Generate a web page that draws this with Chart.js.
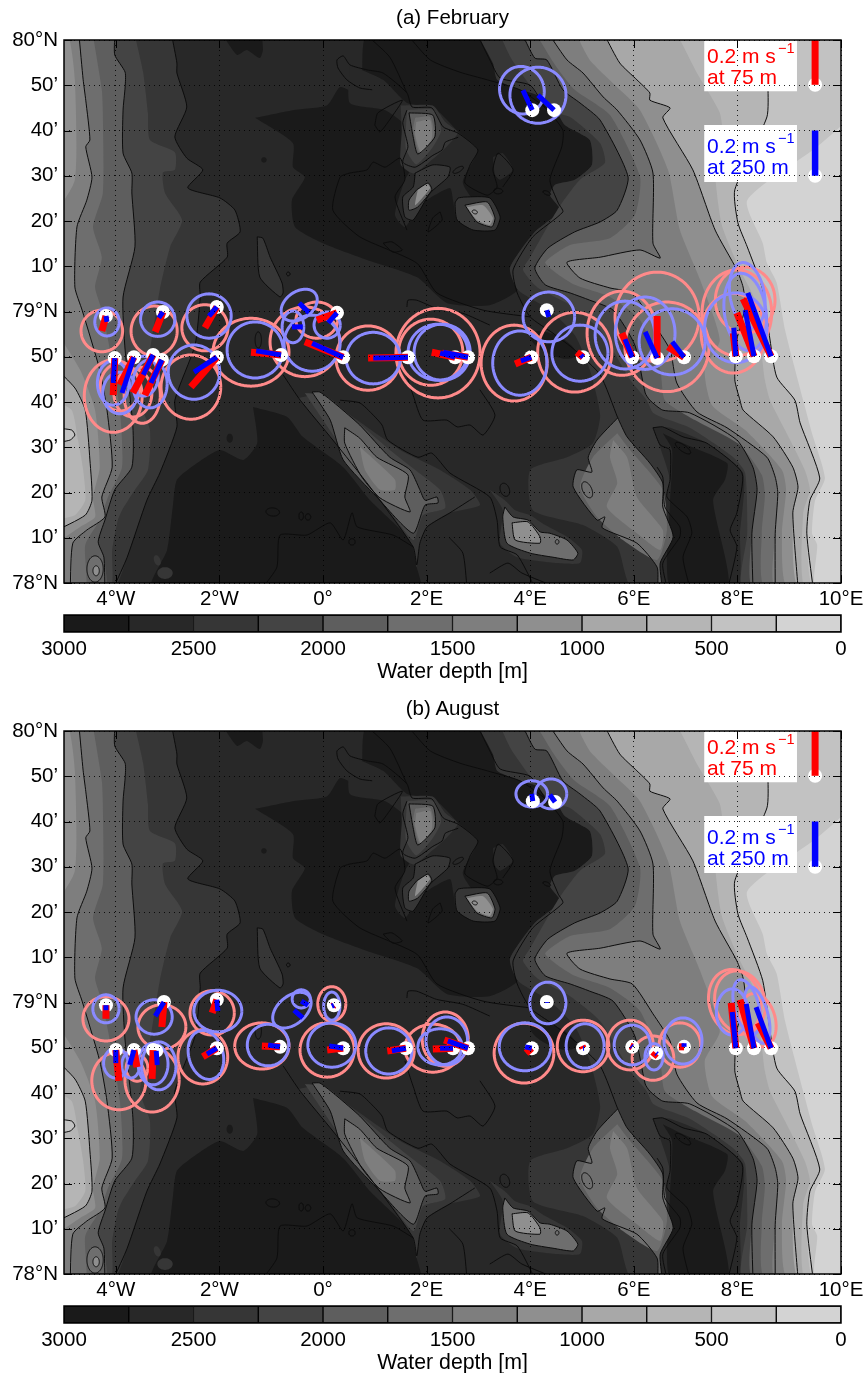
<!DOCTYPE html>
<html>
<head>
<meta charset="utf-8">
<title>Currents over bathymetry</title>
<script src="https://cdn.jsdelivr.net/npm/chart.js@4/dist/chart.umd.min.js"></script>
<style>
  body { margin: 0; background: #fff; font-family: "Liberation Sans", sans-serif; }
  #page { position: relative; width: 865px; height: 1373px; overflow: hidden; }
  canvas { position: absolute; left: 0; }
  .txt { position: absolute; font-size: 21px; line-height: 21px; white-space: nowrap; }
  .title { left: 0; width: 905px; text-align: center; color: #000; font-size: 20.5px; }
  .sup { position: absolute; font-size: 14.5px; line-height: 14px; }
  .red { color: #f00; }
  .blue { color: #00f; }
</style>
</head>
<body>
<div id="page"></div>
<script>
// axis values: lon in degrees, lat in minutes north of 78N
const lonTicks = [-4, -2, 0, 2, 4, 6, 8, 10];
const lonTickLabels = ["4°W", "2°W", "0°", "2°E", "4°E", "6°E", "8°E", "10°E"];
const latTicks = [0, 10, 20, 30, 40, 50, 60, 70, 80, 90, 100, 110, 120];
const latTickLabels = ["78°N", "10’", "20’", "30’", "40’", "50’", "79°N", "10’", "20’", "30’", "40’", "50’", "80°N"];
const depthEdges = [3000, 2750, 2500, 2250, 2000, 1750, 1500, 1250, 1000, 750, 500, 250, 0];
const depthTicks = [3000, 2500, 2000, 1500, 1000, 500, 0];
const depthColors = ["#1a1a1a", "#282828", "#363636", "#444444", "#5e5e5e", "#6e6e6e", "#7e7e7e", "#8f8f8f", "#a8a8a8", "#b5b5b5", "#c2c2c2", "#d3d3d3"];

// contour lines, [lon, lat minutes]
const c2500West = [[-2.92,121],[-2.82,114.9],[-2.82,112.7],[-2.63,105.2],[-2.86,98.6],[-2.63,93.9],[-2.32,91.3],[-2.61,87.3],[-1.99,85.1],[-1.70,82.4],[-1.60,77.6],[-1.85,75.1],[-1.85,72],[-2.37,66.5],[-2.37,63.2],[-2.47,52.6],[-2.86,40.4],[-2.82,34.5],[-3.15,24.3],[-3.40,18.3],[-3.78,5.7],[-4.04,-1]];
const c2000West = [[-4.02,121],[-4.02,116.7],[-3.82,112.9],[-3.82,109.6],[-3.86,104.5],[-3.86,95],[-3.69,90.6],[-3.69,86.2],[-3.63,74.3],[-3.86,63.2],[-3.82,51.5],[-3.67,34.5],[-3.69,25.6],[-4.02,20.6],[-4.21,13.9],[-4.34,9.1],[-4.23,5.7],[-4.21,-1]];
const c1500West = [[-4.71,121],[-4.63,111.2],[-4.58,106.7],[-4.50,97.9],[-4.58,96.4],[-4.46,89.7],[-4.56,84.6],[-4.75,78.7],[-4.79,65.4],[-4.65,60.3],[-4.31,47.1],[-4.17,38.2],[-4.07,25.6],[-4.27,19],[-4.21,14.6],[-4.56,11.7],[-4.83,8.8],[-4.88,-1]];
const c1000West = [[-5.2,47.9],[-4.79,43.1],[-4.59,38.2],[-4.50,27.2],[-4.46,18.3],[-4.59,15],[-5.2,11.3]];
const c500Lens = [[-5.2,34.3],[-4.85,33.8],[-4.79,32.7],[-4.88,31.6],[-5.2,30.9]];
const c500East = [[8.55,121],[8.59,109.6],[8.57,103],[7.95,86.9],[8.01,79.6],[8.19,74.3],[8.49,64.8],[8.63,53.7],[8.76,45.5],[9.11,40.4],[9.21,35.4],[9.59,23.2],[9.40,18.3],[9.34,11],[9.46,-1]];
const c1000East = [[5.44,121],[5.73,114.9],[6.06,111.2],[6.31,108.3],[6.31,106.7],[6.70,105],[6.56,102.8],[7.14,91.3],[7.57,78],[7.99,69.2],[8.11,65.4],[8.15,61],[7.99,53.7],[7.95,44.9],[8.05,40.4],[8.11,38.2],[8.69,32.3],[9.07,25.6],[9.17,21.2],[9.07,15.5],[9.17,-1]];
const c1500East = [[4.38,121],[4.71,115.6],[5.02,112.7],[5.41,107.4],[5.68,104.5],[6.12,97.9],[6.37,90.6],[6.37,75.1],[6.51,71.8],[6.12,73.6],[5.35,72],[4.71,70.9],[4.96,67.4],[5.54,65.2],[5.97,64.1],[6.37,57.5],[6.70,51.5],[6.83,44.2],[7.22,37.8],[7.80,34.3],[8.57,27.8],[8.73,23.4],[8.78,19.9],[8.73,11],[8.73,-1]];
const c2000East = [[3.86,121],[4.09,116],[4.32,115.6],[4.63,109],[4.96,106.1],[5.35,102.3],[5.89,89.7],[5.68,82.4],[5.35,79.8],[4.86,77.6],[4.34,74],[4.09,69.6],[4.29,65.9],[4.77,64.1],[5.15,62.5],[5.60,60.3],[6.02,52.6],[6.22,42],[6.31,40.4],[6.56,38.2],[7.08,37.6],[7.99,31.6],[8.30,25.6],[8.38,20.6],[8.28,11],[8.30,-1]];
const cNorthA = [[1.64,121],[2.07,115.6],[2.64,112.9],[3.17,111.2],[3.80,109],[4.29,105],[4.63,100.1],[4.61,96.4],[4.38,89.1],[4.54,84],[4.63,82],[4.05,76.5],[3.67,69.2],[3.75,64.1],[4.00,58.8],[4.44,55.2],[4.86,51.5],[5.35,46],[5.69,36.5]];
const cNorthB = [[2.99,121],[3.22,115.6],[3.42,111.6],[4.00,110],[4.29,105]];
const cNorthC = [[1.62,78],[1.39,85.3],[1.58,89.1],[1.49,93.9],[1.20,91.9],[0.97,93],[0.85,91.3],[0.52,90.6],[0.33,89.7],[0.19,82.4],[0.71,76.5],[1.81,70.7],[2.20,64.1],[3.09,60.3],[4.00,58.8]];
const cNorthD = [[0.95,109],[0.71,109.4],[0.46,111.2],[0.29,113.8],[0.27,115.6],[0.39,116.5],[0.52,114.5],[0.85,113.4],[1.16,112.7],[1.62,108.3],[1.72,105.2],[2.10,105],[2.32,100.8],[2.61,99.4],[2.99,95.7],[2.84,92.4],[2.74,88.4],[3.17,85.7],[3.36,87.5],[3.28,91.3],[3.38,95],[3.67,91.3],[3.47,87.5]];
const cNorthE = [[0.85,121],[1.29,116.2],[1.62,108.3]];
const cRidge1Edge = [[1.62,104.5],[1.54,101.7],[1.64,96.4],[1.54,93],[1.78,91.9],[2.12,94.5],[2.30,95.7],[2.36,97.4],[2.61,98.5]];
const cRidge1Inner = [[1.66,103.9],[2.12,103.4],[2.16,98.6],[1.83,94.8],[1.74,98.6],[1.66,103.9]];
const cRidge1Side = [[1.00,101.2],[1.06,103.9],[1.53,106.7],[1.35,103.4],[1.10,99.7],[1.00,101.2]];
const cRidge2Outer = [[1.78,90.6],[2.12,92.4],[2.45,91.9],[2.41,89.7],[2.07,86.2],[1.74,80.2],[1.58,80.9],[1.54,85.3],[1.74,87.5],[1.78,90.6]];
const cRidge2Inner = [[1.81,86.9],[2.03,88.4],[2.10,86.9],[1.83,83.1],[1.66,82.4],[1.66,84.6],[1.81,86.9]];
const cRidge3Outer = [[2.61,85.1],[2.74,85.3],[3.22,85.1],[3.42,80.9],[3.32,78],[2.90,78],[2.59,80.2],[2.55,84],[2.61,85.1]];
const cRidge3Inner = [[2.74,83.5],[3.17,84.2],[3.32,80.7],[3.26,78.7],[2.97,79.8],[2.74,83.5]];
const cRidgeBit1 = [[1.16,75.1],[1.33,75.4],[1.53,73.6],[1.35,73.1],[1.16,75.1]];
const cRidgeBit2 = [[2.26,82],[2.30,80.2],[2.03,77.6],[2.12,80.7],[2.26,82]];
const cIsland = [[-1.27,76.5],[-1.16,76.2],[-1.02,72],[-0.79,66.3],[-0.77,64.1],[-0.83,63.2],[-1.22,67.6],[-1.27,76.5]];
const cMidA = [[1.62,61],[1.64,62.5],[1.81,62.5],[2.19,60.7],[2.70,59.6],[3.22,57]];
const cMidB = [[3.03,42.7],[3.32,37.1],[3.09,32.7],[2.84,34.9],[2.59,34.5],[2.39,36],[1.93,36],[1.74,41.5],[1.58,47.1]];
const cSouthA = [[0.33,40.4],[0.71,39.8],[0.97,37.1],[1.14,34.9],[1.25,31.6],[1.83,27.8],[2.10,28.7],[2.45,24.3],[3.22,19],[3.36,13.9],[3.42,8],[3.75,6.2],[4.09,-1]];
const cSouthB = [[3.22,2.2],[3.57,4.4],[3.84,2.2],[4.52,-1]];
const cSouthC = [[2.45,9.9],[2.70,6.6],[2.78,-1]];
const cSouthD = [[-1.16,-1],[-0.89,3.5],[-0.83,10.6],[-0.31,10.6],[0.14,13.3],[0.39,9.5],[0.56,15.5],[0.66,12.4],[1.35,10.6],[1.74,8]];
const cKnipOuter = [[-0.77,46],[-0.44,40.4],[0.19,31.6],[0.91,21.2],[1.74,8],[1.81,4],[1.87,8.8],[2.01,12.4],[2.45,15.5],[2.93,19]];
const cKnipMid = [[-0.21,42.2],[0.14,36],[0.39,27.2],[1.04,19],[1.74,11],[1.97,17.2],[2.22,17.7],[2.20,19],[1.97,18.3],[1.87,20.6],[1.68,25],[1.29,27.8],[0.71,34.9],[0.27,39.3],[-0.06,42.2],[-0.21,42.2]];
const cKnipInner = [[0.42,34.3],[0.71,32],[1.04,27.8],[1.64,23.9],[1.58,19],[1.68,15.7],[1.10,18.8],[0.75,23.4],[0.42,30.9],[0.42,34.3]];
const cBank4Outer = [[3.51,16.8],[3.67,14.6],[3.96,13.9],[4.19,11.3],[4.38,11],[4.71,9.5],[4.92,6.6],[4.83,5.1],[4.44,5.7],[4.00,6.6],[3.55,8.8],[3.47,14.6],[3.51,16.8]];
const cBank4Inner = [[3.65,13.3],[3.96,13.5],[4.19,10.2],[4.19,8.8],[3.71,9.5],[3.65,13.3]];
const cBank6 = [[5.69,36.5],[5.29,31.6],[5.12,27.8],[5.19,24.5],[4.90,25],[4.83,21.2],[5.29,13.9],[5.44,14.6],[5.39,12.2],[6.06,8.8],[6.45,3.5],[6.47,-1],[6.54,-1],[6.51,4.4],[6.76,10.2],[6.56,16.8],[6.56,22.1],[6.31,26.5],[5.87,32.3],[5.69,36.5]];
const cBasinTop = [[6.37,34.3],[6.56,34.5],[6.95,32.3],[7.41,30.9],[8.09,24.3],[7.99,15.5],[7.86,11.7],[7.99,8],[7.82,-1]];
const cBasinLeft = [[6.37,34.3],[6.51,30.5],[6.70,29.4],[6.70,22.8],[6.64,19],[7.03,14.6],[7.12,11],[6.95,5.7],[7.08,-1]];
const cBasinEdge = [[6.45,25.6],[6.56,23.4],[6.60,16.8],[6.89,12.4],[6.89,10.2],[6.56,4.4],[6.64,-1]];

// filled depth areas without their own contour, [lon, lat minutes]
const west2250 = [[-3.63,121],[-3.47,112.7],[-3.38,103.9],[-3.34,97.9],[-2.86,95.2],[-2.86,91.3],[-3.09,90.7],[-3.05,86.2],[-2.72,80.2],[-2.95,74.3],[-3.15,64.8],[-3.34,51.5],[-3.53,40.4],[-3.34,33.8],[-3.38,25],[-3.63,20.6],[-3.88,16.1],[-3.96,13.9],[-4.07,7.3],[-4.11,-1]];
const west1750 = [[-4.44,121],[-4.27,109],[-4.25,103.9],[-4.25,86.2],[-4.44,78.7],[-4.27,72],[-4.40,65.4],[-4.27,60.3],[-4.11,51.5],[-3.92,38.2],[-3.88,25.6],[-4.15,19],[-4.31,13.9],[-4.59,8.4],[-4.59,-1]];
const west1250a = [[-5.2,121],[-4.92,121],[-4.79,111.2],[-4.79,89.1],[-5.2,81]];
const west1250b = [[-5.2,56.5],[-4.69,47.1],[-4.40,38.2],[-4.31,25.6],[-4.44,19],[-4.40,14.6],[-4.69,12.4],[-5.2,8.4]];
const west750 = [[-5.2,40.4],[-4.85,38.2],[-4.73,31.6],[-4.63,25],[-4.59,18.3],[-4.79,15],[-5.2,13.9]];
const darkTop = [[-1.93,121],[-1.66,116.7],[-1.47,117.8],[-1.22,116],[-1.16,117.8],[-1.18,121]];
const darkNorth = [[-1.31,102.8],[-0.58,104.5],[0.08,105.6],[0.33,109.6],[0.66,108.3],[0.75,111.2],[0.85,121],[2.99,121],[3.28,114.9],[3.80,109.6],[4.38,106.7],[4.67,101.2],[5.15,97.9],[5.19,92.4],[4.86,89.1],[4.48,88],[4.38,85.7],[4.58,82.4],[4.09,77.6],[3.61,69.6],[3.76,64.8],[3.22,61.4],[2.39,61.9],[1.81,67.6],[0.85,71.4],[0,75.1],[-0.54,78.7],[-0.60,84.6],[-0.35,89.7],[-0.58,91.9],[-0.58,97.2],[-1.31,102.8]];
const darkSouth = [[-1.35,38.9],[-0.69,36.7],[-0.39,32.3],[0.39,25.6],[0.91,18.3],[1.68,9.5],[1.81,3.5],[1.87,-1],[-3.30,-1],[-3.01,7.3],[-2.90,16.8],[-2.82,22.8],[-2.43,26.5],[-1.99,29.4],[-1.54,27.2],[-1.27,30.9],[-1.35,38.9]];
const ridgeBase = [[0.52,114.5],[1.16,111.2],[1.62,106.1],[2.12,105.2],[2.64,99.4],[2.99,95.7],[2.70,88.4],[3.28,78.7],[3.09,78],[2.59,80.2],[2.51,84.6],[2.45,87.3],[1.93,84],[1.58,78.7],[1.39,81.3],[1.58,89.1],[1.74,92.4],[1.68,100.1],[1.20,104.5],[0.52,106.1],[0.52,114.5]];
const ridgeLump = [[3.28,94.1],[3.47,95],[3.67,91.3],[3.42,89.1],[3.32,90.2],[3.28,94.1]];
const ridge1a = [[1.50,105.5],[2.12,105.5],[2.35,102],[2.60,99.5],[2.35,96],[2.05,93],[1.75,90.5],[1.50,92.5],[1.52,100],[1.50,105.5]];
const ridge1b = [[1.62,104.5],[2.15,104.5],[2.28,100],[2.10,96],[1.80,92.5],[1.60,96],[1.62,104.5]];
const ridge1c = [[1.78,102.8],[2.07,103],[2.14,98.6],[1.87,95],[1.74,100.1],[1.78,102.8]];
const ridge1d = [[1.80,101.9],[2.07,102.3],[2.10,98.3],[1.89,95.2],[1.78,99],[1.80,101.9]];
const ridge2c = [[1.83,86.9],[2.01,88.2],[2.07,87.3],[1.78,83.5],[1.83,86.9]];
const ridge3c = [[2.78,83.1],[3.09,83.5],[3.28,80.7],[3.22,79.1],[2.97,80.2],[2.78,83.1]];
const knipWide = [[-0.48,40.9],[0.19,31.6],[0.91,21.2],[1.74,8],[1.81,3.5],[1.87,8.8],[2.01,12.4],[2.45,15.5],[3.03,17.2],[2.84,20.6],[2.26,25],[1.49,29.4],[0.52,37.1],[-0.06,41.5],[-0.48,40.9]];
const knipBand = [[-0.35,42],[0.33,30.5],[1,20.6],[1.74,9.5],[1.93,15],[2.36,16.6],[2.26,20.6],[1.78,25],[1.29,29.4],[0.62,36],[0.04,41.5],[-0.35,42]];
const knipCore = [[0.71,30.1],[1.06,26.5],[1.39,22.8],[1.39,20.6],[1.10,20.6],[0.81,25],[0.71,30.1]];
const east2500 = [[2.99,121],[3.28,114.9],[3.36,111.2],[3.71,109.4],[4.38,106.7],[4.67,101.2],[5.15,97.9],[5.19,92.4],[4.86,89.1],[4.48,88],[4.38,85.7],[4.58,82.4],[4.09,77.6],[3.61,69.6],[3.76,64.8],[4.38,60.3],[4.86,54.8],[5.15,47.1],[5.35,37.1],[5.21,30.9],[4.71,27.8],[4,25],[4.05,16.1],[5.02,12.8],[5.68,8],[5.98,-1]];
const east2250 = [[3.42,121],[3.65,115.6],[4.38,104.5],[4.77,103],[5.35,97.2],[5.44,92.8],[4.96,89.1],[4.52,82.4],[4,72],[3.86,69.2],[4.13,65.4],[4.77,61.4],[5.35,55.9],[5.93,44.9],[6.25,40.4],[6.37,37.6],[6.56,36.5],[7.08,34.3],[7.92,27.8],[8.15,24.3],[8.19,11],[8.11,-1]];
const east1750 = [[4.13,121],[4.48,114.5],[4.86,109],[5.54,103.4],[6.12,89.7],[6.02,81.3],[5.54,76.2],[4.77,74.7],[4.29,70.9],[4.48,68.7],[4.86,65.9],[5.54,63.2],[6.12,58.1],[6.51,47.1],[6.60,40.4],[7.18,36],[8.05,30.5],[8.47,23.9],[8.53,19.4],[8.47,11],[8.53,-1]];
const east1250 = [[4.90,121],[5.15,115.6],[5.64,110],[6.12,104.5],[6.66,91.3],[6.89,78],[7.28,67],[7.66,53.7],[7.37,47.1],[7.51,39.3],[8.15,33.8],[8.86,25],[8.94,20.6],[8.86,11],[8.96,-1]];
const east750 = [[6.85,121],[7.22,112.7],[7.66,103.9],[7.72,97.2],[7.57,91.3],[7.70,79.1],[8.05,69.2],[8.34,62.5],[8.44,53.7],[8.53,44.9],[8.63,40.4],[8.92,33.8],[9.30,25],[9.40,20.6],[9.27,15.5],[9.30,-1]];
const east250 = [[10.2,103],[9.54,96.4],[8.19,84.6],[8.49,75.1],[8.57,70.7],[8.76,66.3],[8.92,55.9],[9.27,40.4],[9.44,33.1],[9.69,23.2],[9.50,18.3],[9.44,11],[9.54,8.4],[9.50,-1]];
const basinWide = [[6.37,34.5],[6.70,34.3],[7.41,30.9],[8.11,24.3],[8.05,11],[7.99,-1],[6.56,-1],[6.56,16.8],[6.70,22.8],[6.37,34.5]];
const basinDeep = [[6.56,33.1],[6.95,30.9],[7.80,26.5],[7.76,22.8],[7.53,18.3],[7.82,-1],[6.70,-1],[6.70,17.7],[6.74,29.4],[6.56,33.1]];
const bank6a = [[5.68,33.1],[5.93,29.4],[6.56,20.6],[6.64,11.7],[6.45,5.1],[5.79,9.5],[5.29,14.6],[4.96,21.2],[5.21,27.8],[5.68,33.1]];
const bank6b = [[5.60,31.6],[5.87,27.8],[6.06,19],[6.56,11.7],[6.51,7.3],[6.06,11],[5.48,16.8],[5.68,22.1],[5.54,27.8],[5.60,31.6]];
const bank4Wide = [[3.22,20.6],[3.47,16.1],[3.42,8.8],[3.75,5.7],[4.52,4.4],[4.96,4.4],[5,7.3],[4.71,10.2],[4.29,12.8],[4,15],[3.71,16.1],[3.51,18.3],[3.22,20.6]];

// small closed depth features: [level (-1 = no fill), lon, lat min, half width, half height, tilt]
const depthOvals = [
  [5,-4.40,3.1,1.8,2.9,0],[7,-4.38,2.7,0.7,1.1,0],[0,-1.80,32,0.7,1.0,0],[2,-3.05,2.2,1.7,1.3,0],[2,-3.20,5,0.7,1.2,20],
  [0,-1.14,93.5,0.6,0.6,0],[0,4.44,52.6,5.5,2.2,-25],[-1,-0.97,15.7,1.5,0.9,-5],[-1,-0.42,14.8,0.5,0.9,0],[-1,-0.29,14.6,0.6,0.7,0],
  [-1,0.56,9.1,0.7,0.7,0],[-1,3.51,20.6,1.0,1.5,20],[-1,5.10,20.6,1.0,1.9,25],[-1,4.52,9.1,0.4,0.5,0],[-1,6.95,29.8,2.0,0.7,-35],
  [-1,-0.67,68.3,0.4,0.4,0],[-1,-1.25,53.7,0.7,1.8,0],[-1,4.32,86.2,0.9,0.4,-25],[-1,2.93,82,0.6,0.4,-20],[-1,2.61,91.3,1.3,0.5,30],[-1,3.38,86.6,1.0,0.6,0]
];

// February stations and speed bars (null where no bar was drawn)
const febStations = [[-4.19,59.0],[-3.09,59.9],[-2.05,61.0],[0.27,59.7],[-4.02,49.7],[-3.65,49.9],[-3.28,50.4],[-3.11,49.3],[-2.05,49.9],[-0.81,50.4],[0.39,49.9],[1.64,49.9],[2.55,49.9],[2.80,49.9],[4.02,49.9],[4.32,60.3],[5.02,49.9],[5.97,49.9],[6.45,49.7],[6.97,49.9],[7.97,50.1],[8.32,50.1],[8.65,50.1],[4.04,104.5],[4.46,104.5]];
const febRedTips = [[-4.27,55.7],[-3.24,55.5],[-2.28,56.4],[-0.12,58.1],[-4.05,41.5],[-3.92,43.8],[-3.67,42.0],[-3.44,41.5],[-2.55,43.3],[-1.39,51.0],[-0.35,53.3],[0.87,49.7],[2.10,51.0],[2.30,50.8],[3.71,48.4],null,[4.90,51.0],[5.77,55.2],[6.45,59.0],[6.66,52.2],[7.92,55.2],[7.99,59.7],[8.11,62.8],null,null];
const febBlueTips = [[-4.17,57.7],[-3.17,58.6],[-2.20,59.0],[0.10,57.5],[-4.05,44.2],[-3.88,42.0],[-3.47,46.0],[-3.32,44.2],[-2.49,46.6],[-1.29,51.3],[-0.21,53.0],[0.97,49.7],[2.26,50.8],[2.32,51.0],[3.82,49.1],[4.36,58.8],[4.98,50.4],[5.83,53.9],[6.22,55.5],[6.74,53.3],[7.93,56.4],[8.15,60.3],[8.20,64.1],[3.86,108.9],[4.15,107.8]];
const febLooseBars = [[[-0.46,61.9],[-0.27,59.7]],[[-0.60,56.6],[-0.39,56.6]]];
// variance ellipses: lon, lat min, half width, half height (in lat minutes), tilt
const febRedEllipses = [[-4.27,55.7,4.6,4.6,0],[-3.26,55.7,5.1,5.5,0],[-2.28,56.4,5.1,5.1,0],[-0.12,58.1,4.6,4.0,0],[-4.05,41.3,6.4,8.0,0],[-3.92,43.3,4.4,5.3,0],[-3.67,42.0,4.2,5.3,0],[-3.49,41.5,4.0,6.2,0],[-2.55,43.3,6.6,7.1,0],[-1.39,51.0,8.4,7.5,0],[-0.35,53.3,7.7,7.7,0],[0.87,49.7,7.1,7.1,0],[2.08,51.0,7.1,7.3,0],[2.22,50.8,9.3,9.9,0],[3.69,48.6,7.3,8.4,0],[4.86,51.0,8.2,8.8,0],[5.77,55.2,7.7,9.3,0],[6.45,58.8,9.3,9.9,0],[6.64,52.2,9.3,9.9,0],[7.92,55.2,7.1,8.8,0],[7.99,59.7,7.7,9.5,0],[8.15,62.5,6.6,7.3,0]];
const febBlueEllipses = [[-4.17,57.7,2.7,3.1,0],[-3.19,58.3,3.8,3.8,0],[-2.20,59.0,4.9,4.9,0],[0.08,57.0,2.9,2.9,0],[-4.05,44.2,3.5,4.9,0],[-3.92,42.0,3.8,4.6,0],[-3.47,45.7,3.3,4.4,0],[-3.34,44.0,3.8,5.3,0],[-2.49,46.6,5.7,6.0,0],[-1.31,51.5,6.2,6.2,0],[-0.21,53.0,6.2,6.2,0],[0.97,49.7,6.0,5.7,0],[2.22,51.0,6.6,6.2,0],[2.30,51.0,6.2,6.2,0],[3.80,48.6,6.0,7.1,0],[4.36,58.8,5.7,5.5,0],[4.96,50.8,6.2,6.2,0],[5.83,54.8,6.6,7.5,0],[6.22,55.2,6.6,8.0,0],[6.74,53.3,7.3,7.3,0],[7.97,56.4,6.9,7.7,0],[8.15,59.9,4.6,8.6,8],[8.19,63.6,3.8,7.3,10],[3.84,108.9,4.9,5.3,20],[4.15,107.8,6.2,6.2,0],[-0.46,61.4,4.4,3.0,35],[-0.58,56.6,2.4,3.5,0]];

// August
const augStations = [[-4.19,59.4],[-3.07,60.1],[-2.05,60.6],[0.21,59.4],[-4.00,49.5],[-3.65,49.5],[-3.28,49.5],[-3.22,49.3],[-2.05,49.9],[-0.83,50.2],[0.39,49.9],[1.60,49.9],[2.51,49.9],[2.80,49.9],[4.03,49.9],[4.32,60.1],[5.02,49.9],[5.97,50.2],[6.43,48.8],[6.97,50.2],[7.97,49.9],[8.32,49.9],[8.65,49.9],[4.05,104.5],[4.48,104.3]];
const augRedTips = [[-4.19,56.4],[-3.11,54.6],[-2.14,57.7],[0.19,59.2],[-3.94,42.7],[-3.59,45.7],[-3.30,43.1],null,[-2.32,48.0],[-1.18,50.4],[0.08,49.5],[1.24,49.3],[2.12,49.7],[2.34,51.7],[3.92,48.8],null,[5.00,50.4],[5.93,50.4],[6.37,48.0],[6.87,50.2],[7.88,59.9],[8.05,60.6],[8.40,55.5],null,null];
const augBlueTips = [[-4.19,58.3],[-3.24,57.0],[-2.03,58.1],[0.17,59.2],[-4.00,46.6],[-3.73,46.2],null,[-3.20,46.2],[-2.24,48.6],[-1.06,50.6],[0.12,50.4],[1.33,49.3],[2.26,49.9],[2.41,51.5],[3.90,50.2],[4.32,59.9],[5.04,49.9],[5.95,50.4],[6.45,48.6],[6.97,51.0],[7.90,57.9],[8.17,59.7],[8.36,59.0],[4.03,106.1],[4.38,105.9]];
const augLooseBars = [[[-0.42,60.3],[-0.29,59.4]],[[-0.56,58.3],[-0.39,56.6]]];
const augRedEllipses = [[-4.19,56.4,5.1,4.9,0],[-3.11,54.6,5.3,4.9,0],[-2.14,57.7,4.9,4.9,0],[0.17,59.7,3.1,3.8,0],[-3.94,42.7,6.0,6.4,0],[-3.59,45.5,2.4,2.9,0],[-3.30,42.9,6.0,7.1,0],[-2.32,48.0,5.5,6.0,0],[-1.18,50.4,6.0,5.1,0],[0.08,49.5,6.0,6.0,0],[1.22,49.3,6.2,6.0,0],[2.12,49.9,6.2,5.3,0],[2.36,51.9,5.1,6.0,0],[3.88,48.8,6.6,6.6,0],[5.02,50.4,5.7,5.7,0],[5.93,50.6,5.1,5.5,0],[6.37,47.7,4.6,4.9,0],[6.89,50.6,4.6,4.9,0],[7.95,60.1,5.7,7.3,15],[8.05,60.1,5.5,7.0,15],[8.40,56.1,3.8,6.0,15]];
const augBlueEllipses = [[-4.19,58.6,2.9,3.1,0],[-3.26,56.8,4.0,3.8,0],[-2.03,58.1,5.3,4.6,0],[0.17,59.2,1.8,3.1,0],[-4.00,46.6,2.7,3.3,0],[-3.71,46.2,2.0,2.9,0],[-3.28,46.4,3.3,4.6,0],[-3.17,46.0,3.8,5.3,0],[-2.26,48.4,3.8,5.5,15],[-1.06,50.6,4.6,4.6,0],[0.17,50.6,5.3,4.9,0],[1.27,49.3,5.1,5.1,0],[2.26,50.2,4.9,4.0,0],[2.39,51.5,4.6,5.3,0],[3.90,50.2,5.7,5.3,0],[4.34,59.9,4.0,4.6,0],[5.06,50.4,4.2,4.9,0],[5.97,50.6,4.0,4.4,0],[6.39,48.0,2.0,2.9,0],[6.95,51.5,4.2,5.1,0],[7.90,57.9,3.5,5.1,0],[8.18,59.0,2.7,6.2,15],[8.38,57.2,2.4,6.4,15],[4.03,106.1,3.5,2.9,0],[4.40,106.1,3.5,3.3,0],[-0.42,60.8,2.0,2.0,0],[-0.60,58.3,4.9,3.1,40]];

// scale key inside the map
const keyStations = [[9.50,110.1],[9.50,90.0]];
const keyRedBar = [[9.50,110.1],[9.50,121]];
const keyBlueBar = [[9.50,90.0],[9.50,100.0]];
const keyBoxRed = [[7.36,121],[9.15,121],[9.15,108.7],[7.36,108.7],[7.36,121]];
const keyBoxBlue = [[7.36,101.2],[9.15,101.2],[9.15,88.6],[7.36,88.6],[7.36,101.2]];

const RED = "#ff0000", BLUE = "#0000ff", RED_RING = "#ff8a8a", BLUE_RING = "#8a8aff";
const MIN_PER_LON_DEG = 11.45; // 60 * cos(79N)
Chart.defaults.font.family = '"Liberation Sans", sans-serif';
Chart.defaults.font.size = 20.5;
Chart.defaults.color = "#000";

const page = document.getElementById("page");
const WEST = -5.2, EAST = 10.2, NORTH = 121, SOUTH = -1;

function toXY(pts) { return pts.map(([x, y]) => ({ x, y })); }

function ellipse([cx, cy, a, b, tilt]) {
  const phi = tilt * Math.PI / 180, pts = [];
  for (let i = 0; i <= 72; i++) {
    const t = i * Math.PI / 36;
    const dx = a * Math.cos(t) * Math.cos(phi) - b * Math.sin(t) * Math.sin(phi);
    const dy = a * Math.cos(t) * Math.sin(phi) + b * Math.sin(t) * Math.cos(phi);
    pts.push([cx + dx / MIN_PER_LON_DEG, cy + dy]);
  }
  return pts;
}

function area(level, pts) {
  return { data: toXY(pts), fill: "shape", backgroundColor: depthColors[level], borderWidth: 0, pointRadius: 0, tension: 0.2 };
}
function line(pts, color, width, tension) {
  return { data: toXY(pts), fill: false, borderColor: color, borderWidth: width, pointRadius: 0, tension, borderJoinStyle: "round" };
}
const contour = pts => line(pts, "#0c0c0c", 1, 0.2);
const toWest = pts => [...pts, [WEST, SOUTH], [WEST, NORTH]];
const toEast = pts => [...pts, [EAST, SOUTH], [EAST, NORTH]];

function bathymetry() {
  const sets = [
    area(1, [[WEST, SOUTH], [EAST, SOUTH], [EAST, NORTH], [WEST, NORTH], [WEST, SOUTH]]),
    area(2, toWest(c2500West)), area(3, toWest(west2250)), area(4, toWest(c2000West)), area(5, toWest(west1750)),
    area(6, toWest(c1500West)), area(7, west1250a), area(7, west1250b), area(8, c1000West), area(9, west750), area(10, c500Lens),
    area(0, darkTop), area(0, darkNorth), area(0, darkSouth),
    area(1, ridgeBase), area(1, ridgeLump), area(2, ridge1a), area(3, ridge1b), area(4, cRidge1Inner), area(5, ridge1c), area(6, ridge1d),
    area(2, cRidge2Outer), area(4, cRidge2Inner), area(7, ridge2c),
    area(2, cRidge3Outer), area(5, cRidge3Inner), area(7, ridge3c),
    area(2, cIsland), area(2, knipWide), area(3, knipBand), area(4, cKnipMid), area(5, cKnipInner), area(6, knipCore),
    area(2, toEast(east2500)), area(1, basinWide), area(0, basinDeep), area(3, toEast(east2250)), area(4, toEast(c2000East)),
    area(5, toEast(east1750)), area(6, toEast(c1500East)), area(7, toEast(east1250)), area(8, toEast(c1000East)),
    area(9, toEast(east750)), area(10, toEast(c500East)), area(11, [...east250, [EAST, SOUTH]]),
    area(4, cBank6), area(5, bank6a), area(6, bank6b),
    area(2, bank4Wide), area(5, cBank4Outer), area(7, cBank4Inner)
  ];
  depthOvals.forEach(o => { if (o[0] >= 0) sets.push(area(o[0], ellipse(o.slice(1)))); });
  const lines = [c2500West, c2000West, c1500West, c1000West, c500Lens, c500East, c1000East, c1500East, c2000East,
    cNorthA, cNorthB, cNorthC, cNorthD, cNorthE, cRidge1Edge, cRidge1Inner, cRidge1Side, cRidge2Outer, cRidge2Inner,
    cRidge3Outer, cRidge3Inner, cRidgeBit1, cRidgeBit2, cIsland, cMidA, cMidB, cSouthA, cSouthB, cSouthC, cSouthD,
    cKnipOuter, cKnipMid, cKnipInner, cBank4Outer, cBank4Inner, cBank6, cBasinTop, cBasinLeft, cBasinEdge];
  lines.forEach(l => sets.push(contour(l)));
  depthOvals.forEach(o => { if (o[0] !== 0 && o[0] !== 2) sets.push(contour(ellipse(o.slice(1)))); });
  return sets;
}

function whiteBox(pts) {
  return { data: toXY(pts), fill: "shape", backgroundColor: "#fff", borderWidth: 0, pointRadius: 0, tension: 0 };
}

function currents(stations, redTips, blueTips, looseBars, redRings, blueRings) {
  const sets = [whiteBox(keyBoxRed), whiteBox(keyBoxBlue)];
  redRings.forEach(e => sets.push(line(ellipse(e), RED_RING, 3, 0.01)));
  blueRings.forEach(e => sets.push(line(ellipse(e), BLUE_RING, 3, 0.01)));
  sets.push({ data: toXY([...stations, ...keyStations]), showLine: false, pointRadius: 7, pointBackgroundColor: "#fff", pointBorderWidth: 0 });
  stations.forEach((s, i) => { if (redTips[i]) sets.push(line([s, redTips[i]], RED, 7, 0.001)); });
  stations.forEach((s, i) => { if (blueTips[i]) sets.push(line([s, blueTips[i]], BLUE, 5, 0.001)); });
  looseBars.forEach(b => sets.push(line(b, BLUE, 5, 0.001)));
  sets.push(line(keyRedBar, RED, 7, 0.001), line(keyBlueBar, BLUE, 6.5, 0.001));
  return sets;
}

const frame = {
  id: "frame",
  afterDraw(chart, args, opts) {
    const { ctx, chartArea: a, scales } = chart;
    ctx.save();
    ctx.strokeStyle = "#000";
    if (opts.inwardTicks) {
      ctx.lineWidth = 1;
      ctx.beginPath();
      lonTicks.forEach(v => {
        const x = Math.round(scales.x.getPixelForValue(v)) + 0.5;
        ctx.moveTo(x, a.top); ctx.lineTo(x, a.top + 8);
        ctx.moveTo(x, a.bottom); ctx.lineTo(x, a.bottom - 8);
      });
      latTicks.forEach(v => {
        const y = Math.round(scales.y.getPixelForValue(v)) + 0.5;
        ctx.moveTo(a.left, y); ctx.lineTo(a.left + 8, y);
        ctx.moveTo(a.right, y); ctx.lineTo(a.right - 8, y);
      });
      ctx.stroke();
    }
    ctx.lineWidth = 1.5;
    ctx.strokeRect(a.left, a.top, a.right - a.left, a.bottom - a.top);
    ctx.restore();
  }
};

function addCanvas(top, height) {
  const c = document.createElement("canvas");
  c.width = 905; c.height = height;
  c.style.top = top + "px";
  page.appendChild(c);
  return c;
}

function drawMap(top, sets) {
  const all = [...bathymetry(), ...sets];
  all.forEach((d, i) => { d.order = all.length - i; });
  new Chart(addCanvas(top, 612), {
    type: "line",
    data: { datasets: all },
    options: {
      responsive: false,
      animation: false,
      events: [],
      layout: { padding: { top: 40, right: 64 } },
      plugins: { legend: { display: false }, tooltip: { enabled: false }, frame: { inwardTicks: true } },
      scales: {
        x: {
          type: "linear", min: -5, max: 10,
          afterBuildTicks: s => { s.ticks = lonTicks.map(value => ({ value })); },
          afterFit: s => { s.height = 29; },
          ticks: { callback: (v, i) => lonTickLabels[i], maxRotation: 0, autoSkip: false, padding: 4 },
          grid: { color: "rgba(0,0,0,0.85)", z: 1, drawTicks: false },
          border: { display: false, dash: [1, 4] }
        },
        y: {
          type: "linear", min: 0, max: 120,
          afterBuildTicks: s => { s.ticks = latTicks.map(value => ({ value })); },
          afterFit: s => { s.width = 64; },
          ticks: { callback: (v, i) => latTickLabels[i], autoSkip: false, padding: 6 },
          grid: { color: "rgba(0,0,0,0.85)", z: 1, drawTicks: false },
          border: { display: false, dash: [1, 4] }
        }
      }
    },
    plugins: [frame]
  });
}

function drawColorbar(top) {
  new Chart(addCanvas(top, 80), {
    type: "bar",
    data: {
      labels: [""],
      datasets: depthColors.map((color, i) => ({
        data: [[depthEdges[i], depthEdges[i + 1]]],
        backgroundColor: color, borderColor: "#000", borderWidth: 1, borderSkipped: false,
        barPercentage: 1, categoryPercentage: 1
      }))
    },
    options: {
      indexAxis: "y",
      responsive: false,
      animation: false,
      events: [],
      layout: { padding: { top: 10, left: 64, right: 64 } },
      plugins: { legend: { display: false }, tooltip: { enabled: false } },
      scales: {
        x: {
          type: "linear", min: 0, max: 3000, reverse: true,
          afterBuildTicks: s => { s.ticks = depthTicks.map(value => ({ value })); },
          afterFit: s => { s.height = 53; },
          ticks: { callback: v => String(v), maxRotation: 0, autoSkip: false, padding: 5 },
          grid: { display: false, drawTicks: false },
          border: { display: false },
          title: { display: true, text: "Water depth [m]", font: { size: 21.3 }, padding: { top: 0, bottom: 0 } }
        },
        y: { display: false, grouped: false }
      },
      datasets: { bar: { grouped: false } }
    },
    plugins: [frame]
  });
}

function addText(cls, left, top, html) {
  const d = document.createElement("div");
  d.className = "txt " + cls;
  if (left !== null) d.style.left = left + "px";
  d.style.top = top + "px";
  d.innerHTML = html;
  page.appendChild(d);
}

function drawKey(offset) {
  addText("red", 707, offset + 45, "0.2 m s");
  addText("red", 707, offset + 66, "at 75 m");
  addText("blue", 707, offset + 135, "0.2 m s");
  addText("blue", 707, offset + 156, "at 250 m");
  addText("sup red", 778, offset + 41, "−1");
  addText("sup blue", 778, offset + 131, "−1");
}

drawMap(0, currents(febStations, febRedTips, febBlueTips, febLooseBars, febRedEllipses, febBlueEllipses));
drawColorbar(605);
drawMap(691, currents(augStations, augRedTips, augBlueTips, augLooseBars, augRedEllipses, augBlueEllipses));
drawColorbar(1296);
addText("title", 0, 6, "(a) February");
addText("title", 0, 697, "(b) August");
drawKey(0);
drawKey(691);
</script>
</body>
</html>
